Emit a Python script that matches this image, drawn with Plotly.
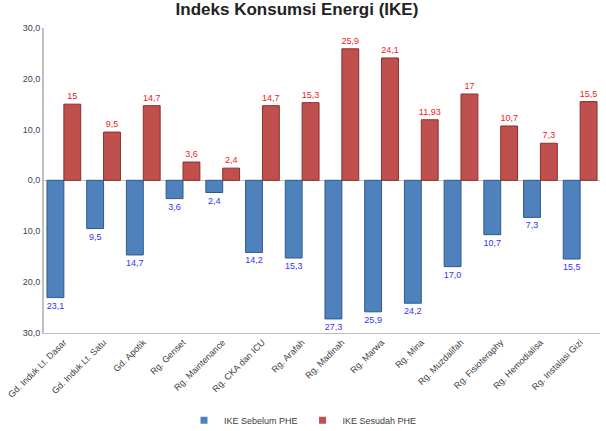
import plotly.graph_objects as go

categories = ["Gd. Induk Lt. Dasar", "Gd. Induk Lt. Satu", "Gd. Apotik", "Rg. Genset",
              "Rg. Maintenance", "Rg. CKA dan ICU", "Rg. Arafah", "Rg. Madinah",
              "Rg. Marwa", "Rg. Mina", "Rg. Muzdalifah", "Rg. Fisioteraphy",
              "Rg. Hemodialisa", "Rg. Instalasi Gizi"]
ike_sebelum = [23.1, 9.5, 14.7, 3.6, 2.4, 14.2, 15.3, 27.3, 25.9, 24.2, 17.0, 10.7, 7.3, 15.5]
ike_sebelum_labels = ["23,1", "9,5", "14,7", "3,6", "2,4", "14,2", "15,3", "27,3", "25,9",
                      "24,2", "17,0", "10,7", "7,3", "15,5"]
ike_sesudah = [15, 9.5, 14.7, 3.6, 2.4, 14.7, 15.3, 25.9, 24.1, 11.93, 17, 10.7, 7.3, 15.5]
ike_sesudah_labels = ["15", "9,5", "14,7", "3,6", "2,4", "14,7", "15,3", "25,9", "24,1",
                      "11,93", "17", "10,7", "7,3", "15,5"]
tick_vals = [-30, -20, -10, 0, 10, 20, 30]
tick_text = ["30,0", "20,0", "10,0", "0,0", "10,0", "20,0", "30,0"]

BLUE = "#4F81BD"
RED = "#C0504D"

fig = go.Figure()
fig.add_trace(go.Bar(
    x=categories, y=[-v for v in ike_sebelum], name="IKE Sebelum PHE", showlegend=False,
    marker=dict(color=BLUE, line=dict(color="#2F5A8C", width=1)),
    text=ike_sebelum_labels, textposition="outside",
    textfont=dict(color="#3535EE", size=9, family="Liberation Sans"),
    cliponaxis=False,
))
fig.add_trace(go.Bar(
    x=categories, y=ike_sesudah, name="IKE Sesudah PHE", showlegend=False,
    marker=dict(color=RED, line=dict(color="#8C2E2B", width=1)),
    text=ike_sesudah_labels, textposition="outside",
    textfont=dict(color="#EE2222", size=9, family="Liberation Sans"),
    cliponaxis=False,
))
# legend entries with small square swatches
fig.add_trace(go.Scatter(x=[None], y=[None], mode="markers", name="IKE Sebelum PHE",
                         marker=dict(symbol="square", size=7, color=BLUE)))
fig.add_trace(go.Scatter(x=[None], y=[None], mode="markers", name="IKE Sesudah PHE",
                         marker=dict(symbol="square", size=7, color=RED)))

fig.update_layout(
    width=606, height=431,
    margin=dict(l=44, r=6, t=28, b=97),
    paper_bgcolor="white", plot_bgcolor="white",
    barmode="group", bargap=0.15, bargroupgap=0.0,
    title=dict(text="<b>Indeks Konsumsi Energi (IKE)</b>", x=0.49, xanchor="center",
               y=1 - 9 / 431, yanchor="middle",
               font=dict(family="Liberation Sans", size=17, color="#222222")),
    font=dict(family="Liberation Sans", size=9, color="#404040"),
    showlegend=True,
    legend=dict(orientation="h", xref="container", yref="container",
                x=0.5, xanchor="center", y=0.025, yanchor="middle",
                font=dict(size=9, color="#404040"), itemwidth=30,
                traceorder="normal"),
    uniformtext=dict(minsize=9, mode="show"),
)
fig.update_xaxes(tickangle=-45, showline=True, linecolor="#BFBFBF", linewidth=1,
                 tickfont=dict(size=9, color="#404040"), showgrid=False, ticks="")
fig.update_yaxes(range=[-30, 30], tickvals=tick_vals, ticktext=tick_text,
                 showgrid=False, zeroline=True, zerolinecolor="#BFBFBF", zerolinewidth=1,
                 showline=True, linecolor="#BFBFBF", linewidth=2,
                 tickfont=dict(size=9, color="#404060"))

fig.write_html("out.html")
